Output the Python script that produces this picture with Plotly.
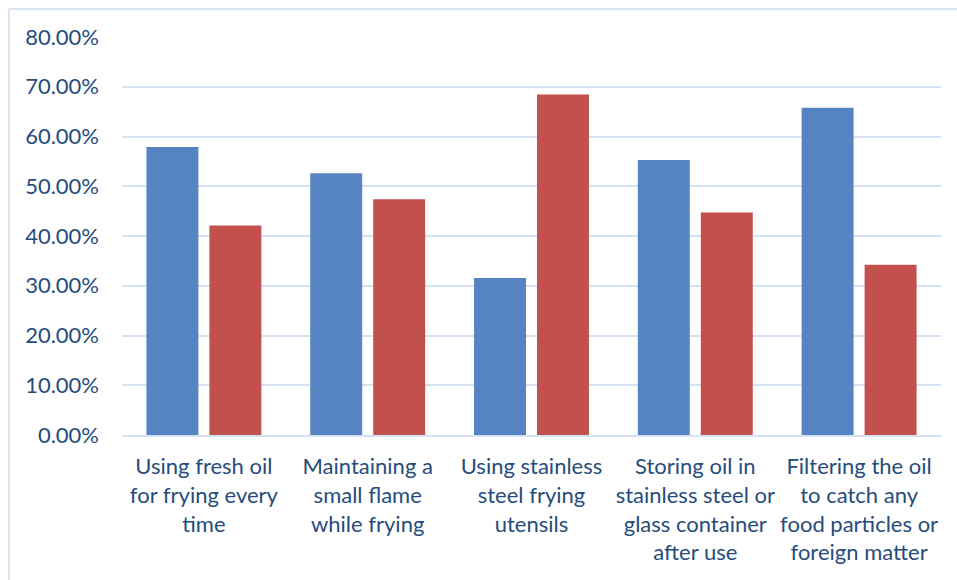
import plotly.graph_objects as go

# Survey categories (frying-oil practices)
categories = [
    "Using fresh oil<br>for frying every<br>time",
    "Maintaining a<br>small flame<br>while frying",
    "Using stainless<br>steel frying<br>utensils",
    "Storing oil in<br>stainless steel or<br>glass container<br>after use",
    "Filtering the oil<br>to catch any<br>food particles or<br>foreign matter",
]

# Share of respondents (fractions)
series_blue = [0.5789, 0.5263, 0.3158, 0.5526, 0.6579]
series_red = [0.4211, 0.4737, 0.6842, 0.4474, 0.3421]

tick_vals = [0, 0.1, 0.2, 0.3, 0.4, 0.5, 0.6, 0.7, 0.8]
tick_text = ["0.00%", "10.00%", "20.00%", "30.00%", "40.00%",
             "50.00%", "60.00%", "70.00%", "80.00%"]

TEXT = "#264C7C"
GRID = "#D6E2F3"
FONT = "Lato, 'Open Sans', sans-serif"

fig = go.Figure()
fig.add_trace(go.Bar(x=categories, y=series_blue, name="Yes",
                     marker=dict(color="#5684C2", line=dict(width=0))))
fig.add_trace(go.Bar(x=categories, y=series_red, name="No",
                     marker=dict(color="#C2514D", line=dict(width=0))))

W, H = 957, 580
ml, mr, mt, mb = 122, 16, 37, 145
pw, ph = W - ml - mr, H - mt - mb


def px_to_paper_x(px):
    return (px - ml) / pw


def px_to_paper_y(py):
    return (H - mb - py) / ph


# Outer chart frame (top and left edges visible)
frame_x0 = px_to_paper_x(9)
frame_y1 = px_to_paper_y(9)
shapes = [
    dict(type="line", xref="paper", yref="paper",
         x0=frame_x0, x1=px_to_paper_x(W + 20), y0=frame_y1, y1=frame_y1,
         line=dict(color="#DCE5F2", width=2)),
    dict(type="line", xref="paper", yref="paper",
         x0=frame_x0, x1=frame_x0, y0=frame_y1, y1=px_to_paper_y(H + 20),
         line=dict(color="#DCE5F2", width=2)),
]

fig.update_layout(
    width=W, height=H,
    margin=dict(l=ml, r=mr, t=mt, b=mb, pad=0),
    paper_bgcolor="white", plot_bgcolor="white",
    barmode="group", bargap=0.231, bargroupgap=0.175,
    showlegend=False,
    font=dict(family=FONT, color=TEXT, size=22),
    shapes=shapes,
)
fig.update_xaxes(
    showgrid=False, showline=True, linecolor=GRID, linewidth=2,
    ticks="", tickfont=dict(size=22, color=TEXT, family=FONT),
    tickangle=0, ticklabelstandoff=11,
)
fig.update_yaxes(
    range=[0, 0.8], tickvals=tick_vals, ticktext=tick_text,
    showgrid=True, gridcolor=GRID, gridwidth=2,
    zeroline=False, showline=False, ticks="",
    ticklabelstandoff=22,
    tickfont=dict(size=22, color=TEXT, family=FONT),
)

fig.write_html("out.html")
